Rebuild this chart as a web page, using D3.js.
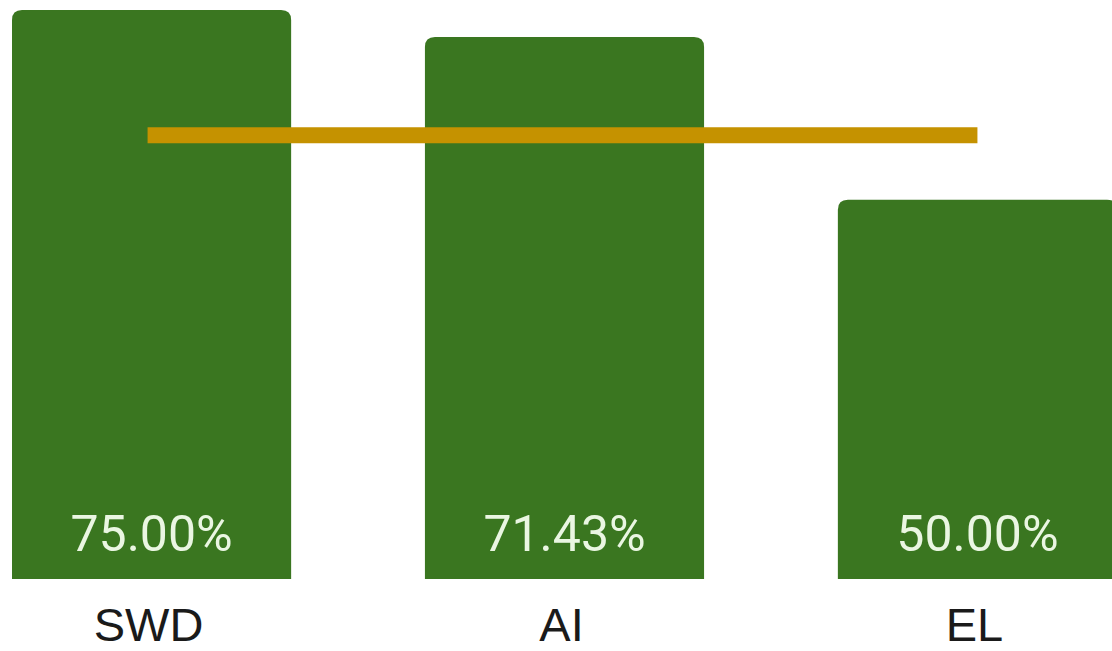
<!DOCTYPE html>
<html>
<head>
<meta charset="utf-8">
<script src="https://cdn.jsdelivr.net/npm/d3@7"></script>
<style>
  html, body { margin: 0; padding: 0; background: #ffffff; }
  svg { display: block; }
</style>
</head>
<body>
<svg id="chart" width="1112" height="651"></svg>
<script>
// Pass rate per track, with the reference threshold drawn across the bars
const categories = ["SWD", "AI", "EL"];
const rates = [75.00, 71.43, 50.00];
const threshold = [58.5];

const W = 1112, H = 651;
const baseline = 579;
const svg = d3.select("#chart");

const x = d3.scaleBand()
  .domain(categories)
  .range([12, 1117])
  .paddingInner(0.324)
  .paddingOuter(0);

const y = d3.scaleLinear()
  .domain([0, 75])
  .range([baseline, 10]);

const bw = x.bandwidth();
const r = 10;

function topRounded(x0, y0, w, h, rad) {
  return `M${x0},${y0 + h}` +
    `V${y0 + rad}` +
    `Q${x0},${y0} ${x0 + rad},${y0}` +
    `H${x0 + w - rad}` +
    `Q${x0 + w},${y0} ${x0 + w},${y0 + rad}` +
    `V${y0 + h}Z`;
}

const data = categories.map((c, i) => ({ c, v: rates[i] }));

svg.append("g").selectAll("path")
  .data(data)
  .join("path")
  .attr("d", d => topRounded(x(d.c), y(d.v), bw, baseline - y(d.v), r))
  .attr("fill", "#3a7620");

// threshold line spanning the first to the last bar centre
const lx0 = x(categories[0]) + bw / 2 - 4;
const lx1 = x(categories[categories.length - 1]) + bw / 2;
svg.append("line")
  .attr("x1", lx0).attr("x2", lx1)
  .attr("y1", y(threshold[0])).attr("y2", y(threshold[0]))
  .attr("stroke", "#c59200")
  .attr("stroke-width", 16);

// value labels inside the bars
svg.append("g").selectAll("text")
  .data(data)
  .join("text")
  .attr("x", d => x(d.c) + bw / 2)
  .attr("y", baseline - 28)
  .attr("text-anchor", "middle")
  .attr("font-family", "Roboto, sans-serif")
  .attr("font-size", 50)
  .attr("fill", "#eaf6e2")
  .text(d => d.v.toFixed(2) + "%");

// category axis labels
svg.append("g").selectAll("text")
  .data(categories)
  .join("text")
  .attr("x", d => x(d) + bw / 2 - 3)
  .attr("y", 641)
  .attr("text-anchor", "middle")
  .attr("font-family", "'Liberation Sans', Arial, sans-serif")
  .attr("font-size", 47)
  .attr("fill", "#1a1a1a")
  .text(d => d);
</script>
</body>
</html>
